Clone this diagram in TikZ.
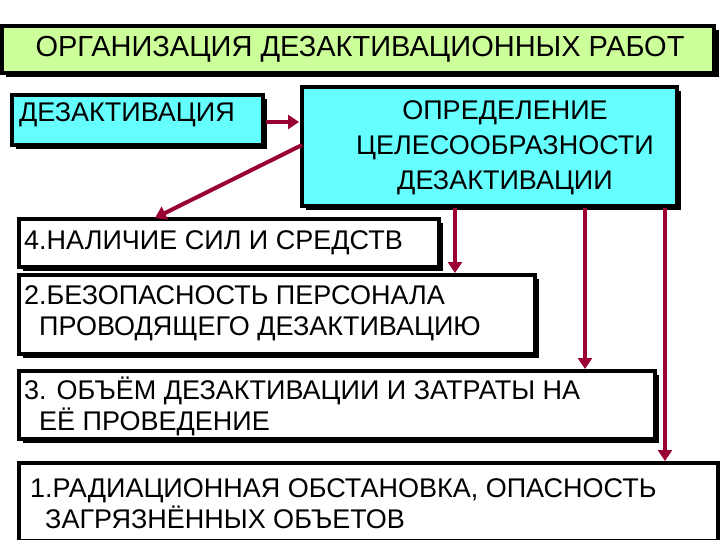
\documentclass[tikz,border=0pt]{standalone}
\usepackage{fontspec}
\setmainfont{Liberation Sans}
\usetikzlibrary{arrows.meta}
\definecolor{tgreen}{HTML}{CCFF99}
\definecolor{tcyan}{HTML}{66FFFF}
\definecolor{arr}{HTML}{990033}
\begin{document}
\begin{tikzpicture}[x=1pt,y=-1pt,
  bx/.style={draw=black,line width=4pt,inner sep=0pt},
  ar/.style={draw=arr,line width=4pt,-{Triangle[length=11pt,width=14pt]}},
  txt/.style={font=\fontsize{27}{31}\selectfont,align=left,anchor=west,inner sep=0pt}]
\useasboundingbox (0,0) rectangle (720,540);
\fill[white] (0,0) rectangle (720,540);
% title
\fill (6,30) rectangle (719,77);
\filldraw[bx,fill=tgreen] (2,26) rectangle (714,73);
\node[font=\fontsize{29}{33}\selectfont,anchor=center] (t) at (360,49) {ОРГАНИЗАЦИЯ ДЕЗАКТИВАЦИОННЫХ РАБОТ};
% left
\fill (16,99) rectangle (267,149);
\filldraw[bx,fill=tcyan] (12,95) rectangle (263,145);
\node[txt] (l) at (19,115) {ДЕЗАКТИВАЦИЯ};
\coordinate (lr) at (266,122);
% right
\fill (306,91) rectangle (681,210);
\filldraw[bx,fill=tcyan] (302,87) rectangle (677,206);
\node[font=\fontsize{27}{35}\selectfont,align=center] (r) at (505,148) {ОПРЕДЕЛЕНИЕ\\ЦЕЛЕСООБРАЗНОСТИ\\ДЕЗАКТИВАЦИИ};
\coordinate (rl) at (299,122);
\coordinate (rd) at (302,145);
% boxes
\fill (23,223) rectangle (443,271);
\filldraw[bx,fill=white] (19,219) rectangle (439,267);
\node[txt] (b4) at (24,243) {4.НАЛИЧИЕ СИЛ И СРЕДСТВ};
\fill (23,279) rectangle (539,358);
\filldraw[bx,fill=white] (19,275) rectangle (535,354);
\node[txt] (b2) at (24,313) {2.БЕЗОПАСНОСТЬ ПЕРСОНАЛА\\\ \ ПРОВОДЯЩЕГО ДЕЗАКТИВАЦИЮ};
\fill (23,375) rectangle (659,443);
\filldraw[bx,fill=white] (19,371) rectangle (655,439);
\node[txt] (b3) at (24,406) {3. ОБЪЁМ ДЕЗАКТИВАЦИИ И ЗАТРАТЫ НА\\\ \ ЕЁ ПРОВЕДЕНИЕ};
\fill (23,467) rectangle (722,545);
\filldraw[bx,fill=white] (19,463) rectangle (718,541);
\node[txt] (b1) at (30,504) {1.РАДИАЦИОННАЯ ОБСТАНОВКА, ОПАСНОСТЬ\\\ \ ЗАГРЯЗНЁННЫХ ОБЪЕТОВ};
% arrows
\draw[ar] (lr) -- (rl);
\draw[ar] (rd) -- (155,218) coordinate (e4);
\draw[ar] (455,208) -- (455,273);
\draw[ar] (585,208) -- (585,369);
\draw[ar] (665,208) -- (665,461);
\end{tikzpicture}
\end{document}
